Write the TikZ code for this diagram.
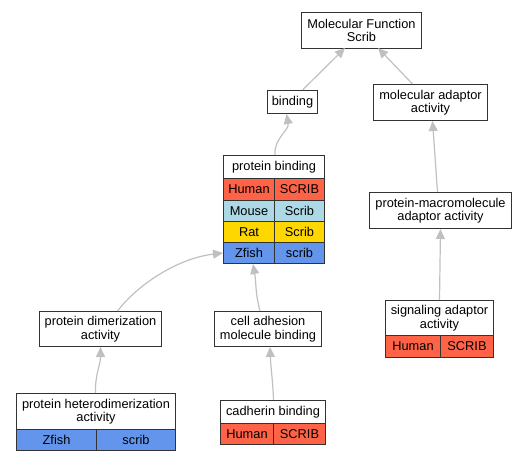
\documentclass[tikz,border=0pt]{standalone}
\usepackage{fontspec}
\setmainfont{Liberation Sans}
\usetikzlibrary{arrows.meta}
\definecolor{tomatoc}{HTML}{FF6347}
\definecolor{lblue}{HTML}{ADD8E6}
\definecolor{goldc}{HTML}{FFD700}
\definecolor{cblue}{HTML}{6495ED}
\definecolor{edgec}{HTML}{C0C0C0}
\definecolor{borderc}{HTML}{333333}
\tikzset{
  box/.style={draw=borderc, line width=1pt, fill=white, inner sep=0pt, align=center,
    anchor=north west, font=\fontsize{12.8}{13.5}\selectfont},
  cell/.style={box},
  edge/.style={draw=edgec, line width=1.2pt, -{Triangle[length=10pt,width=9pt,fill=edgec]}}
}
\begin{document}
\begin{tikzpicture}[x=1pt,y=-1pt]
\useasboundingbox (0,0) rectangle (527,461);
% nodes
\node[box, minimum width=120pt, minimum height=36pt] (mf) at (301,12) {Molecular Function\\Scrib};
\node[box, minimum width=50pt, minimum height=23pt] (bind) at (267,90) {binding};
\node[box, minimum width=114pt, minimum height=36pt] (mad) at (373,84) {molecular adaptor\\activity};
\node[box, minimum width=101pt, minimum height=23pt] (pb) at (223,155) {protein binding};
\node[cell, fill=tomatoc, minimum width=51pt, minimum height=22pt] (pbhs) at (223,178) {Human};
\node[cell, fill=tomatoc, minimum width=50pt, minimum height=22pt] (pbhg) at (274,178) {SCRIB};
\node[cell, fill=lblue, minimum width=51pt, minimum height=21pt] (pbms) at (223,200) {Mouse};
\node[cell, fill=lblue, minimum width=50pt, minimum height=21pt] (pbmg) at (274,200) {Scrib};
\node[cell, fill=goldc, minimum width=51pt, minimum height=21pt] (pbrs) at (223,221) {Rat};
\node[cell, fill=goldc, minimum width=50pt, minimum height=21pt] (pbrg) at (274,221) {Scrib};
\node[cell, fill=cblue, minimum width=51pt, minimum height=21pt] (pbzs) at (223,242) {Zfish};
\node[cell, fill=cblue, minimum width=50pt, minimum height=21pt] (pbzg) at (274,242) {scrib};
\node[box, minimum width=142pt, minimum height=36pt] (pma) at (369,192) {protein-macromolecule\\adaptor activity};
\node[box, minimum width=108pt, minimum height=35pt] (sig) at (385,300) {signaling adaptor\\activity};
\node[cell, fill=tomatoc, minimum width=55pt, minimum height=22pt] (sighs) at (385,335) {Human};
\node[cell, fill=tomatoc, minimum width=53pt, minimum height=22pt] (sighg) at (440,335) {SCRIB};
\node[box, minimum width=122pt, minimum height=35pt] (pd) at (39,311) {protein dimerization\\activity};
\node[box, minimum width=107pt, minimum height=35pt] (ca) at (214,311) {cell adhesion\\molecule binding};
\node[box, minimum width=159pt, minimum height=36pt] (het) at (16,393) {protein heterodimerization\\activity};
\node[cell, fill=cblue, minimum width=80pt, minimum height=21pt] (hetzs) at (16,429) {Zfish};
\node[cell, fill=cblue, minimum width=79pt, minimum height=21pt] (hetzg) at (96,429) {scrib};
\node[box, minimum width=105pt, minimum height=23pt] (cad) at (220,400) {cadherin binding};
\node[cell, fill=tomatoc, minimum width=53pt, minimum height=21pt] (cadhs) at (220,423) {Human};
\node[cell, fill=tomatoc, minimum width=52pt, minimum height=21pt] (cadhg) at (273,423) {SCRIB};
% connector end points
\coordinate (mfa) at (345,48);
\coordinate (mfb) at (378,48);
\coordinate (binds) at ([xshift=-6pt]bind.south);
\coordinate (bindn) at ([xshift=10pt]bind.north);
\coordinate (madn) at ([xshift=-18pt]mad.north);
\coordinate (mads) at ([xshift=2pt]mad.south);
\coordinate (pman) at ([xshift=-3pt]pma.north);
\coordinate (pbn) at ([xshift=1pt]pb.north);
\coordinate (pbs) at ([xshift=4pt]pbzs.south);
\coordinate (pdn) at ([xshift=17pt]pd.north);
\coordinate (can) at ([xshift=-8pt]ca.north);
\coordinate (cas) at ([xshift=2pt]ca.south);
\coordinate (hetn) at ([xshift=-0.5pt]het.north);
\coordinate (cadn) at ([xshift=0.5pt]cad.north);
% connectors
\draw[edge] (bindn) -- (mfa);
\draw[edge] (madn) -- (mfb);
\draw[edge] (pbn) to[out=95,in=-80] (binds);
\draw[edge] (pman) -- (mads);
\draw[edge] (sig.north) -- (pma.south);
\draw[edge] (pdn) .. controls (140,282) and (180,258) .. (pbzs.west);
\draw[edge] (can) to[out=105,in=-80] (pbs);
\draw[edge] (hetn) to[out=92,in=-90] (pd.south);
\draw[edge] (cadn) to[out=92,in=-88] (cas);
\end{tikzpicture}
\end{document}
